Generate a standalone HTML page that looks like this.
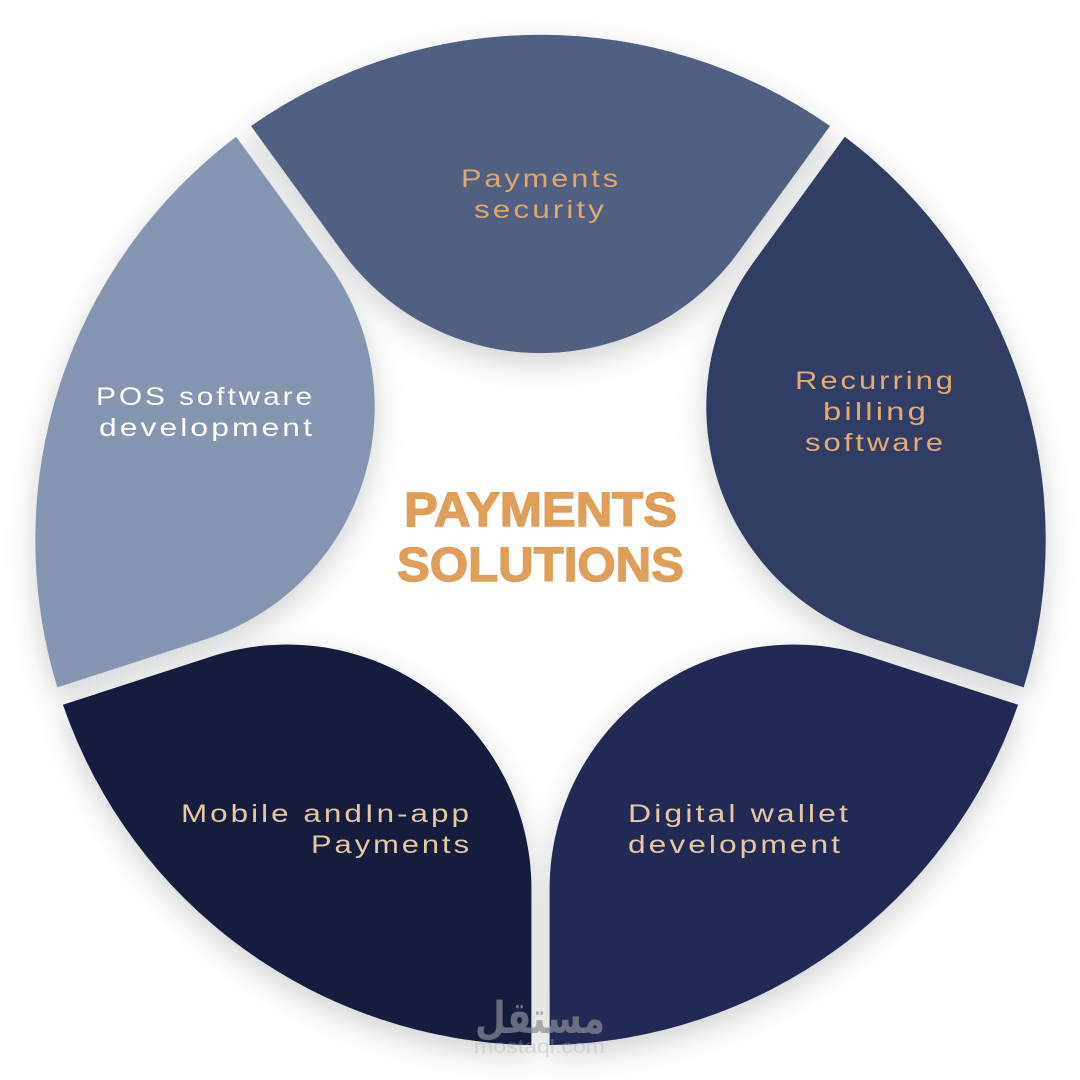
<!DOCTYPE html>
<html>
<head>
<meta charset="utf-8">
<style>
html,body{margin:0;padding:0;background:#fff;width:1080px;height:1080px;overflow:hidden}
svg{display:block}
.b{font-family:"Liberation Sans",sans-serif;font-size:25px;letter-spacing:2.4px}
.t{font-family:"Liberation Sans",sans-serif;font-size:48px;font-weight:bold;fill:#df9f5b;stroke:#df9f5b;stroke-width:1.4px}
</style>
</head>
<body>
<svg width="1080" height="1080" viewBox="0 0 1080 1080" xmlns="http://www.w3.org/2000/svg">
<defs>
<filter id="s" x="-20%" y="-20%" width="140%" height="140%">
<feDropShadow dx="0" dy="10" stdDeviation="14" flood-color="#4a5058" flood-opacity="0.25"/>
</filter>
<path id="p" d="M251 126 A505 505 0 0 1 830 126 L738.3 252.3 A244.5 244.5 0 0 1 342.7 252.3 Z"/>
</defs>
<g filter="url(#s)">
<use href="#p" fill="#516181"/>
<use href="#p" fill="#303c63" transform="rotate(72 540.5 540)"/>
<use href="#p" fill="#232c52" transform="rotate(144 540.5 540)"/>
<use href="#p" fill="#131a3a" transform="rotate(216 540.5 540)"/>
<use href="#p" fill="#8796b0" transform="rotate(288 540.5 540)"/>
</g>

<g class="b" fill="#dfa76c">
<text x="461" y="187" textLength="160" lengthAdjust="spacingAndGlyphs">Payments</text>
<text x="474" y="218" textLength="133" lengthAdjust="spacingAndGlyphs">security</text>
</g>
<g class="b" fill="#dfab76">
<text x="795" y="389" textLength="161" lengthAdjust="spacingAndGlyphs">Recurring</text>
<text x="823" y="420" textLength="106" lengthAdjust="spacingAndGlyphs">billing</text>
<text x="805" y="451" textLength="141" lengthAdjust="spacingAndGlyphs">software</text>
</g>
<g class="b" fill="#ffffff">
<text x="96" y="405" textLength="219" lengthAdjust="spacingAndGlyphs">POS software</text>
<text x="99" y="436" textLength="216" lengthAdjust="spacingAndGlyphs">development</text>
</g>
<g class="b" fill="#e4c7a6">
<text x="181" y="822" textLength="291" lengthAdjust="spacingAndGlyphs">Mobile andIn-app</text>
<text x="311" y="853" textLength="161" lengthAdjust="spacingAndGlyphs">Payments</text>
</g>
<g class="b" fill="#e4c7a6">
<text x="628" y="822" textLength="223" lengthAdjust="spacingAndGlyphs">Digital wallet</text>
<text x="628" y="853" textLength="215" lengthAdjust="spacingAndGlyphs">development</text>
</g>

<text class="t" x="404" y="526" textLength="273" lengthAdjust="spacingAndGlyphs">PAYMENTS</text>
<text class="t" x="397" y="581" textLength="287" lengthAdjust="spacingAndGlyphs">SOLUTIONS</text>

<text x="475" y="1033" font-family="'DejaVu Sans','Noto Sans CJK SC',sans-serif" font-weight="bold" font-size="44" fill="#8a8c96" fill-opacity="0.7" textLength="130" lengthAdjust="spacingAndGlyphs">مستقل</text>
<text x="474" y="1053" font-family="'Liberation Sans',sans-serif" font-size="19" fill="#a8a8a8" fill-opacity="0.35" textLength="131" lengthAdjust="spacingAndGlyphs">mostaql.com</text>
</svg>
</body>
</html>
